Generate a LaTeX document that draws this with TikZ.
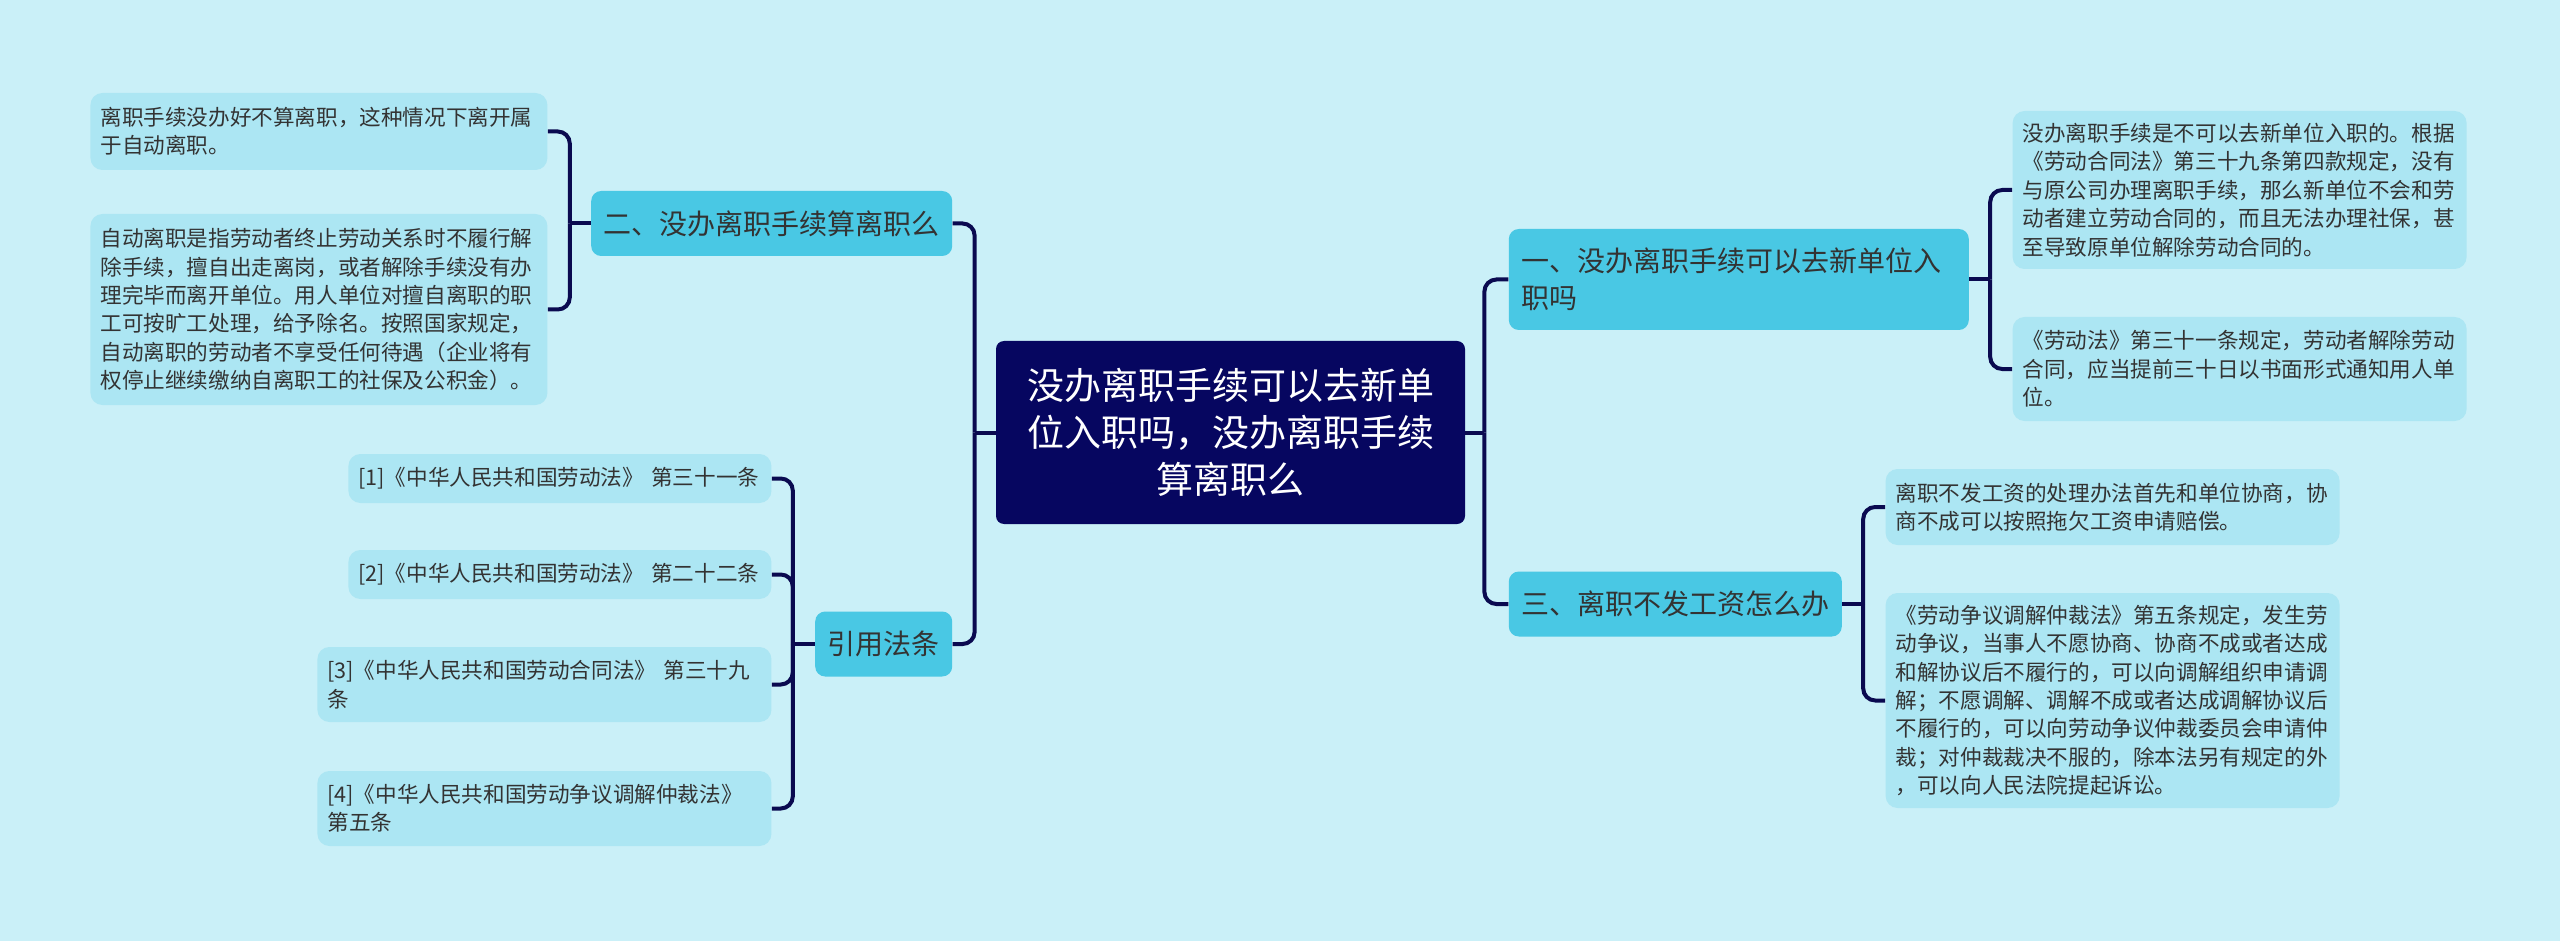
\documentclass[tikz,border=0pt]{standalone}
\usepackage{fontspec}
\setmainfont{Noto Sans CJK SC}
\usepackage{xcolor}
\usepackage{tikz}
\usetikzlibrary{positioning}
\definecolor{BgCyan}{RGB}{202,240,248}
\definecolor{LeafCyan}{RGB}{172,230,243}
\definecolor{TopicCyan}{RGB}{73,200,228}
\definecolor{RootNavy}{RGB}{6,6,96}
\definecolor{LinkNavy}{RGB}{10,10,80}
\definecolor{TextGray}{RGB}{51,51,51}

\begin{document}
\begin{tikzpicture}[
    x=0.5pt, y=-0.5pt,
    node distance=21.5pt,
    root/.style={rectangle, fill=RootNavy, rounded corners=4pt, text=white, inner sep=0pt,
                 text width=215pt, align=center, minimum width=234.5pt, minimum height=91.5pt,
                 font=\fontsize{18.5}{23.5}\selectfont},
    topic/.style={rectangle, fill=TopicCyan, rounded corners=5pt, text=TextGray, inner xsep=6.25pt,
                  inner ysep=0pt, align=left, minimum height=32.5pt, font=\fontsize{14}{18.5}\selectfont},
    leaf/.style={rectangle, fill=LeafCyan, rounded corners=6pt, text=TextGray, inner xsep=5pt,
                 inner ysep=0pt, text width=217pt, align=left, font=\fontsize{10.8}{14.2}\selectfont},
    link/.style={line width=2pt, LinkNavy, rounded corners=6pt}
]
\fill[BgCyan] (0,0) rectangle (2560,941);
\node[root] (root) at (1230.5,432.5) {没办离职手续可以去新单\\位入职吗，没办离职手续\\算离职么};
% branches
\node[topic, right=of root, yshift=76.5pt, text width=217.5pt, minimum height=50.5pt] (b1) {一、没办离职手续可以去新单位入\\职吗};
\node[topic, right=of root, yshift=-85.75pt] (b3) {三、离职不发工资怎么办};
\node[topic, left=of root, yshift=104.5pt] (b2) {二、没办离职手续算离职么};
\node[topic, left=of root, yshift=-105.75pt] (b4) {引用法条};
% leaves
\node[leaf, right=of b1, yshift=44.75pt, minimum height=79pt] (r1) {没办离职手续是不可以去新单位入职的。根据\\《劳动合同法》第三十九条第四款规定，没有\\与原公司办理离职手续，那么新单位不会和劳\\动者建立劳动合同的，而且无法办理社保，甚\\至导致原单位解除劳动合同的。};
\node[leaf, right=of b1, yshift=-44.75pt, minimum height=52pt] (r2) {《劳动法》第三十一条规定，劳动者解除劳动\\合同，应当提前三十日以书面形式通知用人单\\位。};
\node[leaf, right=of b3, yshift=48.5pt, minimum height=38pt] (r3) {离职不发工资的处理办法首先和单位协商，协\\商不成可以按照拖欠工资申请赔偿。};
\node[leaf, right=of b3, yshift=-48.25pt, minimum height=107.5pt] (r4) {《劳动争议调解仲裁法》第五条规定，发生劳\\动争议，当事人不愿协商、协商不成或者达成\\和解协议后不履行的，可以向调解组织申请调\\解；不愿调解、调解不成或者达成调解协议后\\不履行的，可以向劳动争议仲裁委员会申请仲\\裁；对仲裁裁决不服的，除本法另有规定的外\\，可以向人民法院提起诉讼。};
\node[leaf, left=of b2, yshift=46pt, text width=218.5pt, minimum height=38.5pt] (l1) {离职手续没办好不算离职，这种情况下离开属\\于自动离职。};
\node[leaf, left=of b2, yshift=-43pt, text width=218.5pt, minimum height=95.5pt] (l2) {自动离职是指劳动者终止劳动关系时不履行解\\除手续，擅自出走离岗，或者解除手续没有办\\理完毕而离开单位。用人单位对擅自离职的职\\工可按旷工处理，给予除名。按照国家规定，\\自动离职的劳动者不享受任何待遇（企业将有\\权停止继续缴纳自离职工的社保及公积金）。};
\node[leaf, left=of b4, yshift=82.75pt, text width=201.5pt, minimum height=24.5pt] (c1) {[1]《中华人民共和国劳动法》 第三十一条};
\node[leaf, left=of b4, yshift=34.75pt, text width=201.5pt, minimum height=24.5pt] (c2) {[2]《中华人民共和国劳动法》 第二十二条};
\node[leaf, left=of b4, yshift=-20.25pt, minimum height=37.5pt] (c3) {[3]《中华人民共和国劳动合同法》 第三十九\\条};
\node[leaf, left=of b4, yshift=-82.25pt, minimum height=37.5pt] (c4) {[4]《中华人民共和国劳动争议调解仲裁法》\\第五条};
% connectors
\draw[link] (root.east) -- ++(9.5pt,0) coordinate (rs);
\draw[link] (rs) |- (b1.west); \draw[link] (rs) |- (b3.west);
\draw[link] (root.west) -- ++(-10.5pt,0) coordinate (ls);
\draw[link] (ls) |- (b2.east); \draw[link] (ls) |- (b4.east);
\draw[link] (b1.east) -- ++(10.5pt,0) coordinate (s1);
\draw[link] (s1) |- (r1.west); \draw[link] (s1) |- (r2.west);
\draw[link] (b3.east) -- ++(10.5pt,0) coordinate (s3);
\draw[link] (s3) |- (r3.west); \draw[link] (s3) |- (r4.west);
\draw[link] (b2.west) -- ++(-10.5pt,0) coordinate (s2);
\draw[link] (s2) |- (l1.east); \draw[link] (s2) |- (l2.east);
\draw[link] (b4.west) -- ++(-11pt,0) coordinate (s4);
\draw[link] (s4) |- (c1.east); \draw[link] (s4) |- (c2.east);
\draw[link] (s4) |- (c3.east); \draw[link] (s4) |- (c4.east);
\end{tikzpicture}
\end{document}
